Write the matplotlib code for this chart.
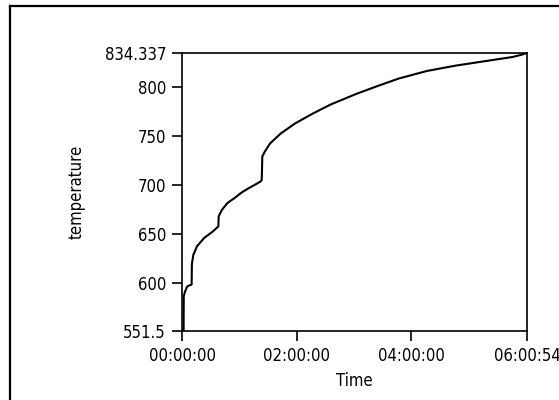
import matplotlib
matplotlib.use("Agg")
import matplotlib.pyplot as plt
from matplotlib.ticker import FuncFormatter, FixedLocator
from matplotlib.lines import Line2D
from matplotlib import font_manager as fm

# data (time in seconds, temperature)
time_s = [0, 100, 110, 200, 336, 605, 620, 640, 717, 940, 1388, 1948, 2284,
          2300, 2508, 2843, 3292, 3740, 4187, 4635, 4927, 5000, 5016, 5040,
          5196, 5531, 6203, 7099, 8218, 9338, 10905, 12249, 13593, 15384,
          17176, 18967, 20758, 21300, 21654]
temperature = [551.5, 551.5, 587, 592, 597, 598.8, 619, 622, 629.2, 637.7,
               646.1, 652.9, 658, 668.1, 674.8, 681.6, 686.7, 692.4, 696.8,
               700.8, 703.6, 705, 712, 729, 734, 742.4, 752.5, 762.7, 772.8,
               782, 792.5, 800.6, 808.3, 816.1, 821.5, 825.9, 830.3, 832.5,
               834.337]
y_ticks = [551.5, 600, 650, 700, 750, 800, 834.337]
y_tick_labels = ["551.5", "600", "650", "700", "750", "800", "834.337"]
x_ticks = [0, 7200, 14400, 21654]
x_label = "Time"
y_label = "temperature"

# pick a condensed font if available
cond = [f for f in fm.fontManager.ttflist
        if f.name == "DejaVu Sans" and "ondensed" in str(f.stretch) + f.fname
        and f.weight in (400, "normal") and f.style == "normal"]
narrow = [f for f in fm.fontManager.ttflist if f.name == "Liberation Sans Narrow"]
if cond:
    fprops = dict(family="DejaVu Sans", stretch="condensed", size=12.0)
elif narrow:
    fprops = dict(family="Liberation Sans Narrow", size=13.0)
else:
    fprops = dict(family="DejaVu Sans", size=10.8)
fp = fm.FontProperties(**fprops)

fig = plt.figure(figsize=(5.59, 4.0), dpi=100)
W, H = 559, 400
L, R, T, B = 182, 527, 53, 331
ax = fig.add_axes([L / W, 1 - B / H, (R - L) / W, (B - T) / H])

ax.plot(time_s, temperature, color="black", lw=1.5)

ax.set_xlim(0, 21654)
ax.set_ylim(551.5, 834.337)
ax.yaxis.set_major_locator(FixedLocator(y_ticks))
ax.set_yticklabels(y_tick_labels)
ax.xaxis.set_major_locator(FixedLocator(x_ticks))

def fmt(x, pos):
    x = int(round(x))
    return "%02d:%02d:%02d" % (x // 3600, (x % 3600) // 60, x % 60)

ax.xaxis.set_major_formatter(FuncFormatter(fmt))

for s in ax.spines.values():
    s.set_linewidth(1.2)
    s.set_color("black")

ax.tick_params(axis="both", direction="out", length=7, width=1.2,
               colors="black")
ax.tick_params(axis="y", pad=4.5)
ax.tick_params(axis="x", pad=4.5)
for lab in ax.get_xticklabels() + ax.get_yticklabels():
    lab.set_fontproperties(fp)

ax.set_xlabel(x_label, fontproperties=fp, va="center")
ax.xaxis.set_label_coords(0.5, (B - 381) / (B - T))
ax.set_ylabel(y_label, fontproperties=fp, va="center")
ax.yaxis.set_label_coords((77 - L) / (R - L), 0.5)

# outer frame
fig.add_artist(Line2D([10 / W, 10 / W], [0, 1 - 5.5 / H], color="black",
                      lw=1.6, transform=fig.transFigure))
fig.add_artist(Line2D([10 / W, 1.0], [1 - 5.5 / H, 1 - 5.5 / H], color="black",
                      lw=1.6, transform=fig.transFigure))

fig.savefig("out.png", dpi=100)
